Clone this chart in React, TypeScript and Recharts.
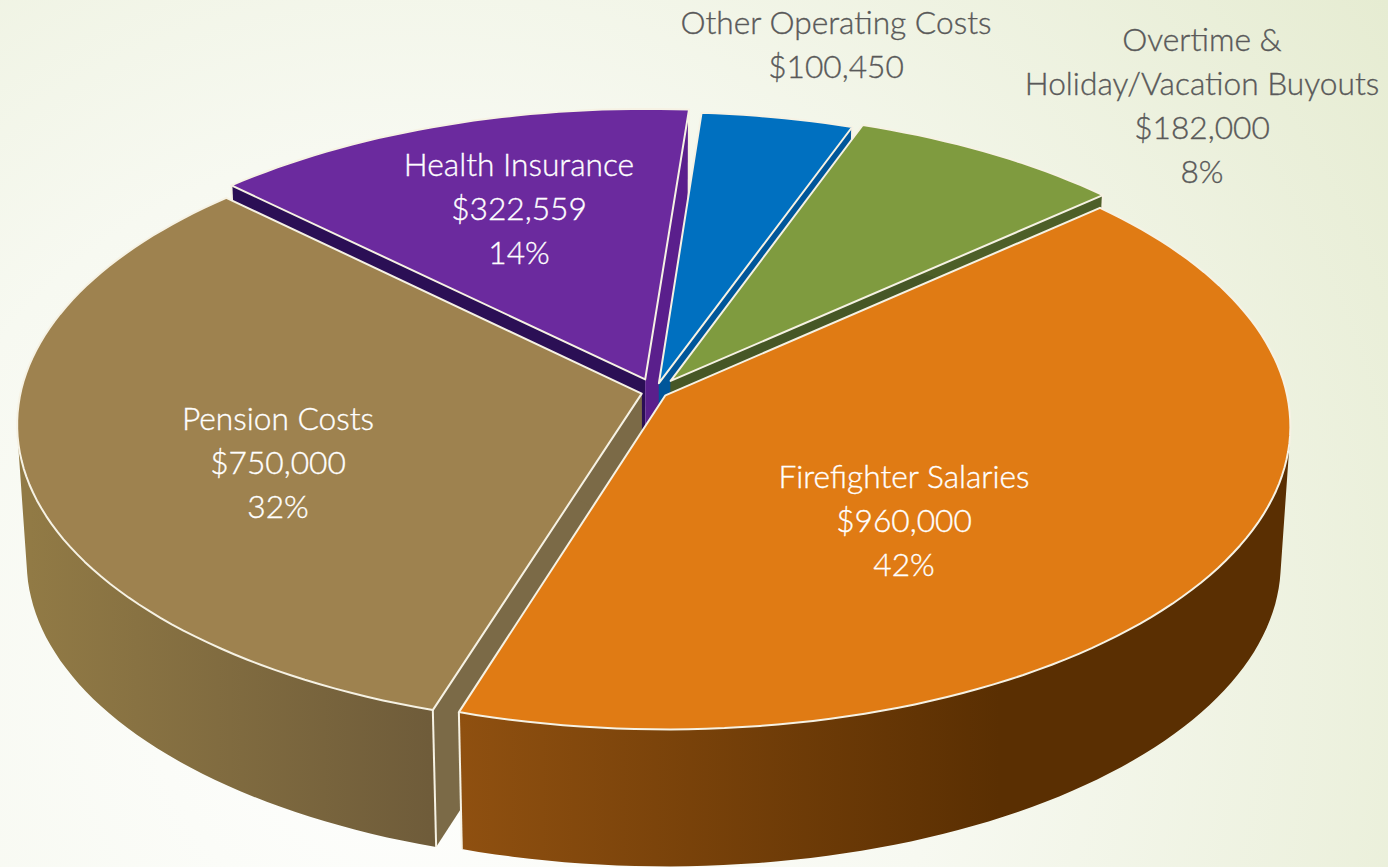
import * as React from 'react';
import { PieChart, Pie } from 'recharts';

const categories = [
  'Firefighter Salaries',
  'Pension Costs',
  'Health Insurance',
  'Other Operating Costs',
  'Overtime & Holiday/Vacation Buyouts',
];
const amounts = [960000, 750000, 322559, 100450, 182000];
const percentLabels = ['42%', '32%', '14%', '', '8%'];

const data = categories.map((name, i) => ({ name, value: amounts[i] }));

// back to front, the slices overlap each other
const paintOrder = [2, 3, 4, 1, 0];

const WIDTH = 1388;
const HEIGHT = 867;
const CX = 655;
const CY = 392;
const RADIUS = 300;

// tilt of the disc
const STRETCH_X = 2.07;
const PERSPECTIVE = 0.1;
const DEPTH = 137;
const LOWER_SCALE = 0.985;

const sliceStyles = [
  { top: '#e07b14', wallFrom: '#8f5010', wallTo: '#5a2f02', wallX: [460, 1000], sideStart: '#6a3a06', sideEnd: '#6a3a06', explode: 0.02 },
  { top: '#9e824f', wallFrom: '#917a45', wallTo: '#6f5c3a', wallX: [30, 430], sideStart: '#7b6a47', sideEnd: '#7b6a47', explode: 0.022 },
  { top: '#6b2a9e', wallFrom: '#2b0f55', wallTo: '#5a1f8c', wallX: [600, 640], sideStart: '#2b0f55', sideEnd: '#5a1f8c', explode: 0.045 },
  { top: '#0070c0', wallFrom: '#00569a', wallTo: '#00569a', wallX: [30, 430], sideStart: '#00569a', sideEnd: '#00569a', explode: 0.03 },
  { top: '#7f9b3f', wallFrom: '#4d5f28', wallTo: '#4d5f28', wallX: [30, 430], sideStart: '#465726', sideEnd: '#465726', explode: 0.045 },
];

// centre x and first baseline of each label block
const labelPlaces = [
  { x: 904, y: 488, color: '#ffffff', lines: ['Firefighter Salaries'] },
  { x: 278, y: 430, color: '#ffffff', lines: ['Pension Costs'] },
  { x: 519, y: 176, color: '#ffffff', lines: ['Health Insurance'] },
  { x: 836, y: 34, color: '#595959', lines: ['Other Operating Costs'] },
  { x: 1202, y: 51, color: '#595959', lines: ['Overtime &', 'Holiday/Vacation Buyouts'] },
];

const RAD = Math.PI / 180;

const project = (u: number, v: number, lower: boolean, cx: number, cy: number, r: number) => {
  const w = 1 + PERSPECTIVE * v;
  const sx = lower ? LOWER_SCALE : 1;
  return [cx + (r * STRETCH_X * sx * u) / w, cy - (r * v) / w + (lower ? DEPTH : 0)];
};

const toPath = (pts: number[][]) =>
  pts.map((p, i) => `${i ? 'L' : 'M'}${p[0].toFixed(1)},${p[1].toFixed(1)}`).join('') + 'Z';

// all quads wound the same way, so the folds at the silhouette stay filled
const wallPath = (top: number[][], low: number[][]) => {
  let d = '';
  for (let i = 0; i < top.length - 1; i++) {
    const quad = [top[i], top[i + 1], low[i + 1], low[i]];
    let area = 0;
    quad.forEach((p, j) => {
      const q = quad[(j + 1) % 4];
      area += p[0] * q[1] - q[0] * p[1];
    });
    d += toPath(area < 0 ? quad.reverse() : quad);
  }
  return d;
};

const Slice = (props: any) => {
  const { cx, cy, outerRadius, startAngle, endAngle, index } = props;
  const style = sliceStyles[index];
  const mid = ((startAngle + endAngle) / 2) * RAD;
  const ox = style.explode * Math.cos(mid);
  const oy = style.explode * Math.sin(mid);
  const at = (u: number, v: number, lower: boolean) => project(u, v, lower, cx, cy, outerRadius);

  const steps = Math.max(4, Math.ceil(Math.abs(endAngle - startAngle) / 1.5));
  const arc = (lower: boolean) => {
    const pts: number[][] = [];
    for (let i = 0; i <= steps; i++) {
      const a = (startAngle + ((endAngle - startAngle) * i) / steps) * RAD;
      pts.push(at(ox + Math.cos(a), oy + Math.sin(a), lower));
    }
    return pts;
  };

  const topArc = arc(false);
  const lowArc = arc(true);
  const apex = at(ox, oy, false);
  const apexLow = at(ox, oy, true);
  const gradId = `wall-${index}`;
  const edge = '#f6f2e4';

  return (
    <g>
      <defs>
        <linearGradient id={gradId} gradientUnits="userSpaceOnUse" x1={style.wallX[0]} y1={0} x2={style.wallX[1]} y2={0}>
          <stop offset="0%" stopColor={style.wallFrom} />
          <stop offset="100%" stopColor={style.wallTo} />
        </linearGradient>
      </defs>
      <path d={toPath([apex, topArc[0], lowArc[0], apexLow])} fill={style.sideStart} />
      <path d={toPath([apex, topArc[steps], lowArc[steps], apexLow])} fill={style.sideEnd} />
      <path d={wallPath(topArc, lowArc)} fill={`url(#${gradId})`} />
      <line x1={topArc[0][0]} y1={topArc[0][1]} x2={lowArc[0][0]} y2={lowArc[0][1]} stroke={edge} strokeWidth={2} />
      <line x1={topArc[steps][0]} y1={topArc[steps][1]} x2={lowArc[steps][0]} y2={lowArc[steps][1]} stroke={edge} strokeWidth={2} />
      <path d={toPath([apex, ...topArc])} fill={style.top} stroke={edge} strokeWidth={2} strokeLinejoin="round" />
    </g>
  );
};

const renderLabel = (props: any) => {
  const { index, value } = props;
  const place = labelPlaces[index];
  const lines = [...place.lines, `$${value.toLocaleString('en-US')}`];
  if (percentLabels[index]) lines.push(percentLabels[index]);
  return (
    <text
      key={index}
      textAnchor="middle"
      fill={place.color}
      fontFamily="Lato, sans-serif"
      fontWeight={300}
      fontSize={31.7}
      stroke={place.color}
      strokeWidth={0.35}
    >
      {lines.map((line, i) => (
        <tspan key={i} x={place.x} y={place.y + i * 44}>
          {line}
        </tspan>
      ))}
    </text>
  );
};

export default function App() {
  return (
    <div
      style={{
        position: 'absolute',
        left: 0,
        top: 0,
        width: WIDTH,
        height: HEIGHT,
        overflow: 'hidden',
        background: 'radial-gradient(circle at 30% 78%, #ffffff 0%, #f7f9f1 45%, #e6ecd2 100%)',
      }}
    >
      <PieChart width={WIDTH} height={HEIGHT} margin={{ top: 0, right: 0, bottom: 0, left: 0 }}>
        {paintOrder.map((sliceIndex, layer) => (
          <Pie
            key={sliceIndex}
            data={data}
            dataKey="value"
            nameKey="name"
            cx={CX}
            cy={CY}
            outerRadius={RADIUS}
            startAngle={41.7}
            endAngle={-318.3}
            paddingAngle={0}
            stroke="none"
            isAnimationActive={false}
            labelLine={false}
            label={layer === paintOrder.length - 1 ? renderLabel : false}
            shape={(props: any) => (props.index === sliceIndex ? <Slice {...props} /> : <g />)}
          />
        ))}
      </PieChart>
    </div>
  );
}
